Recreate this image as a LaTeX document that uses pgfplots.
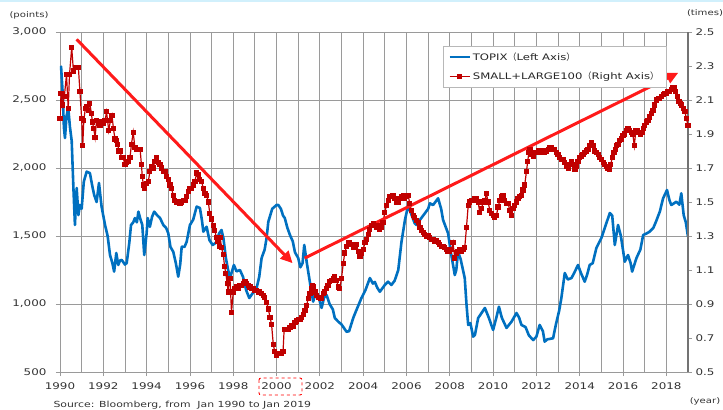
\documentclass[border=0pt]{standalone}
\usepackage{fontspec}
\setmainfont{DejaVu Sans}[FakeStretch=1.3]
\newfontfamily\cjk{Noto Sans CJK JP}
\usepackage{pgfplots}
\pgfplotsset{compat=1.18}
\usetikzlibrary{arrows.meta}

\definecolor{topix}{HTML}{0070C0}
\definecolor{slred}{HTML}{C00000}
\definecolor{arrowred}{HTML}{FF1A1A}
\definecolor{txt}{HTML}{333333}
\definecolor{gridc}{HTML}{9A9A9A}

\pgfplotsset{
  twin/.style={
    scale only axis, width=628bp, height=340bp,
    xmin=1990, xmax=2019,
    tick align=outside, major tick length=4bp, minor tick length=0bp,
    tick style={gridc, line width=0.8bp},
    tick label style={font=\fontsize{9.2}{10}\selectfont, text=txt},
    /pgf/number format/assume math mode=true,
    legend image code/.code={
      \draw[mark repeat=2, mark phase=2, #1] plot coordinates {(0bp,0bp) (10bp,0bp) (20bp,0bp)};
    },
  }
}

\begin{document}
\begin{tikzpicture}
\useasboundingbox (-60bp,-38bp) rectangle (663bp,372bp);
\draw[color=cyan!18, line width=2bp] (-60bp,371bp) -- (663bp,371bp);

% left axis: TOPIX
\begin{axis}[
  twin,
  ymin=500, ymax=3000,
  ytick={500,1000,1500,2000,2500,3000},
  xtick={1990,1992,...,2018},
  minor xtick={1991,1993,...,2017},
  xticklabel style={/pgf/number format/1000 sep={}, yshift=-3bp},
  yticklabel style={xshift=-6bp},
  axis x line*=bottom, axis y line*=left,
  axis line style={gridc, line width=0.8bp},
  xmajorgrids, xminorgrids, ymajorgrids,
  grid style={gridc, line width=0.8bp},
  minor grid style={gridc, line width=0.8bp},
]
\addplot[topix, line width=2.6bp, line join=round] coordinates {
(1990.0,2720) (1990.05,2745) (1990.12,2560) (1990.18,2300) (1990.23,2220)
(1990.3,2380) (1990.38,2441) (1990.46,2300) (1990.54,2200) (1990.62,1850)
(1990.69,1581) (1990.77,1853) (1990.85,1654) (1990.92,1728) (1991.0,1700)
(1991.1,1900) (1991.23,1973) (1991.38,1963) (1991.5,1860) (1991.58,1801)
(1991.69,1750) (1991.8,1890) (1991.92,1716) (1992.08,1581) (1992.2,1500)
(1992.31,1360) (1992.42,1300) (1992.5,1238) (1992.6,1375) (1992.69,1287)
(1992.77,1320) (1992.85,1324) (1993.0,1290) (1993.08,1301) (1993.2,1450)
(1993.28,1581) (1993.38,1600) (1993.46,1632) (1993.55,1600) (1993.62,1679)
(1993.72,1620) (1993.8,1581) (1993.89,1360) (1994.0,1520) (1994.05,1632)
(1994.15,1568) (1994.25,1640) (1994.35,1679) (1994.5,1650) (1994.62,1632)
(1994.77,1581) (1994.9,1560) (1995.0,1520) (1995.1,1420) (1995.23,1384)
(1995.35,1300) (1995.46,1201) (1995.55,1290) (1995.62,1421) (1995.75,1420)
(1995.85,1458) (1996.0,1581) (1996.15,1620) (1996.31,1716) (1996.46,1706)
(1996.55,1620) (1996.62,1532) (1996.77,1568) (1996.9,1470) (1997.05,1434)
(1997.2,1450) (1997.35,1520) (1997.46,1544) (1997.55,1480) (1997.66,1338)
(1997.75,1260) (1997.85,1191) (1998.03,1287) (1998.15,1240) (1998.31,1250)
(1998.45,1200) (1998.6,1100) (1998.74,1044) (1998.9,1080) (1999.08,1118)
(1999.2,1200) (1999.31,1338) (1999.45,1400) (1999.54,1485) (1999.62,1605)
(1999.8,1700) (2000.0,1728) (2000.08,1728) (2000.2,1700) (2000.3,1650)
(2000.38,1632) (2000.5,1560) (2000.62,1507) (2000.75,1460) (2000.85,1380)
(2001.0,1338) (2001.1,1270) (2001.2,1300) (2001.28,1434) (2001.4,1300)
(2001.55,1150) (2001.69,1017) (2001.8,1080) (2001.92,1066) (2002.08,971)
(2002.2,1050) (2002.31,1066) (2002.45,1000) (2002.6,960) (2002.69,897)
(2002.85,870) (2003.0,850) (2003.23,796) (2003.35,800) (2003.54,897)
(2003.7,960) (2003.92,1044) (2004.1,1100) (2004.31,1191) (2004.45,1150)
(2004.54,1162) (2004.65,1120) (2004.77,1090) (2005.0,1140) (2005.15,1164)
(2005.3,1140) (2005.45,1170) (2005.62,1250) (2005.77,1458) (2005.93,1618)
(2006.08,1728) (2006.15,1691) (2006.38,1593) (2006.46,1581) (2006.62,1618)
(2006.85,1667) (2007.0,1700) (2007.08,1740) (2007.23,1728) (2007.46,1777)
(2007.6,1700) (2007.69,1618) (2007.92,1520) (2008.05,1380) (2008.23,1213)
(2008.3,1250) (2008.38,1384) (2008.5,1330) (2008.69,1191) (2008.77,1000)
(2008.85,846) (2008.95,860) (2009.08,760) (2009.16,772) (2009.31,897)
(2009.45,930) (2009.62,971) (2009.8,900) (2010.0,809) (2010.15,900)
(2010.27,980) (2010.4,900) (2010.62,824) (2010.75,850) (2010.85,870)
(2011.08,934) (2011.2,900) (2011.31,846) (2011.5,830) (2011.65,770)
(2011.85,735) (2012.0,760) (2012.15,846) (2012.3,800) (2012.38,723)
(2012.5,740) (2012.77,748) (2012.9,850) (2013.05,950) (2013.15,1042)
(2013.31,1228) (2013.45,1180) (2013.62,1191) (2013.75,1230) (2013.92,1287)
(2014.05,1230) (2014.23,1164) (2014.35,1220) (2014.46,1287) (2014.6,1300)
(2014.77,1412) (2015.0,1485) (2015.2,1580) (2015.39,1669) (2015.5,1650)
(2015.62,1434) (2015.77,1581) (2015.9,1500) (2016.08,1311) (2016.23,1360)
(2016.35,1300) (2016.42,1238) (2016.62,1338) (2016.8,1400) (2016.93,1507)
(2017.1,1520) (2017.23,1532) (2017.4,1560) (2017.52,1605) (2017.7,1680)
(2017.85,1777) (2018.03,1838) (2018.15,1760) (2018.23,1728) (2018.35,1740)
(2018.46,1752) (2018.6,1730) (2018.69,1814) (2018.8,1654) (2018.9,1600)
(2019.0,1495)
};
\end{axis}

% right axis: SMALL+LARGE100
\begin{axis}[
  twin,
  ymin=0.5, ymax=2.5,
  ytick={0.5,0.7,0.9,1.1,1.3,1.5,1.7,1.9,2.1,2.3,2.5},
  yticklabel style={/pgf/number format/.cd, fixed, fixed zerofill, precision=1},
  axis x line=none, axis y line*=right,
  axis line style={black!55, line width=1.2bp},
  legend cell align=left,
  legend style={at={(axis description cs:0.61,0.958)}, anchor=north west,
    draw=gridc!70, fill=white, font=\fontsize{9}{10}\selectfont, text=black!85,
    inner xsep=5bp, inner ysep=4bp, row sep=6bp},
]
\addlegendimage{topix, line width=2.6bp}
\addlegendentry{TOPIX{\cjk （}Left Axis{\cjk ）}}
\addplot[slred, line width=1.2bp, mark=square*, mark size=2bp, mark options={solid}] coordinates {
(1990.0,1.99) (1990.05,2.14) (1990.12,2.07) (1990.2,2.12) (1990.3,2.25)
(1990.38,2.05) (1990.44,2.25) (1990.54,2.41) (1990.62,2.27) (1990.7,2.29)
(1990.77,2.29) (1990.85,2.29) (1990.92,2.15) (1991.0,1.99) (1991.05,1.83)
(1991.1,1.98) (1991.17,2.05) (1991.23,2.06) (1991.3,2.04) (1991.38,2.08)
(1991.45,2.02) (1991.5,1.97) (1991.56,1.93) (1991.62,1.88) (1991.69,1.98)
(1991.77,1.96) (1991.85,1.95) (1991.92,1.97) (1992.0,1.96) (1992.08,1.98)
(1992.15,2.03) (1992.25,1.92) (1992.33,1.98) (1992.4,2.01) (1992.47,1.93)
(1992.54,1.87) (1992.6,1.86) (1992.66,1.84) (1992.72,1.80) (1992.77,1.80)
(1992.85,1.76) (1992.92,1.76) (1993.0,1.72) (1993.08,1.73) (1993.15,1.74)
(1993.23,1.76) (1993.3,1.84) (1993.38,1.91) (1993.46,1.82) (1993.54,1.81)
(1993.62,1.81) (1993.7,1.81) (1993.76,1.72) (1993.8,1.65) (1993.85,1.60)
(1993.92,1.58) (1994.0,1.61) (1994.08,1.62) (1994.15,1.68) (1994.23,1.71)
(1994.3,1.70) (1994.38,1.74) (1994.46,1.76) (1994.54,1.73) (1994.62,1.72)
(1994.7,1.70) (1994.77,1.68) (1994.85,1.68) (1994.92,1.65) (1995.0,1.63)
(1995.08,1.60) (1995.15,1.58) (1995.23,1.54) (1995.3,1.51) (1995.38,1.50)
(1995.46,1.50) (1995.54,1.49) (1995.62,1.50) (1995.7,1.51) (1995.77,1.51)
(1995.85,1.53) (1995.92,1.56) (1996.0,1.58) (1996.08,1.58) (1996.15,1.60)
(1996.23,1.62) (1996.31,1.67) (1996.38,1.66) (1996.46,1.63) (1996.54,1.62)
(1996.62,1.58) (1996.7,1.55) (1996.77,1.54) (1996.85,1.50) (1996.92,1.43)
(1997.0,1.40) (1997.08,1.36) (1997.15,1.33) (1997.23,1.29) (1997.3,1.27)
(1997.35,1.24) (1997.4,1.29) (1997.46,1.23) (1997.54,1.19) (1997.6,1.12)
(1997.66,1.08) (1997.72,1.02) (1997.77,0.97) (1997.81,1.05) (1997.85,1.05)
(1997.92,0.85) (1998.0,0.97) (1998.08,0.99) (1998.15,1.00) (1998.23,0.99)
(1998.31,1.01) (1998.38,1.01) (1998.46,1.02) (1998.54,1.03) (1998.62,1.02)
(1998.7,1.01) (1998.77,1.00) (1998.85,0.99) (1998.92,0.99) (1999.0,0.98)
(1999.08,0.98) (1999.15,0.97) (1999.23,0.97) (1999.31,0.96) (1999.38,0.95)
(1999.46,0.94) (1999.54,0.91) (1999.62,0.87) (1999.7,0.82) (1999.77,0.78)
(1999.85,0.66) (1999.92,0.62) (2000.0,0.60) (2000.08,0.61) (2000.15,0.61)
(2000.23,0.61) (2000.3,0.62) (2000.35,0.75) (2000.46,0.75) (2000.54,0.75)
(2000.62,0.76) (2000.7,0.77) (2000.77,0.77) (2000.85,0.79) (2000.92,0.80)
(2001.0,0.81) (2001.08,0.81) (2001.15,0.82) (2001.23,0.84) (2001.31,0.86)
(2001.38,0.89) (2001.46,0.93) (2001.54,0.96) (2001.6,0.99) (2001.65,1.01)
(2001.72,1.00) (2001.78,0.97) (2001.85,0.95) (2001.92,0.94) (2002.0,0.94)
(2002.05,0.93) (2002.15,0.96) (2002.23,0.97) (2002.31,0.99) (2002.38,1.01)
(2002.46,1.03) (2002.54,1.04) (2002.62,1.05) (2002.69,1.06) (2002.77,1.04)
(2002.85,1.00) (2002.92,0.99) (2003.0,1.05) (2003.08,1.14) (2003.15,1.20)
(2003.23,1.24) (2003.35,1.26) (2003.46,1.25) (2003.58,1.23) (2003.69,1.25)
(2003.77,1.21) (2003.85,1.18) (2003.92,1.20) (2004.0,1.22) (2004.08,1.26)
(2004.15,1.28) (2004.23,1.31) (2004.31,1.34) (2004.38,1.36) (2004.46,1.37)
(2004.54,1.36) (2004.62,1.35) (2004.7,1.36) (2004.77,1.34) (2004.85,1.35)
(2004.92,1.38) (2005.0,1.44) (2005.08,1.48) (2005.16,1.51) (2005.23,1.53)
(2005.3,1.53) (2005.38,1.54) (2005.46,1.52) (2005.54,1.50) (2005.62,1.50)
(2005.7,1.52) (2005.77,1.53) (2005.85,1.54) (2005.92,1.52) (2006.0,1.53)
(2006.08,1.54) (2006.15,1.49) (2006.23,1.45) (2006.31,1.42) (2006.38,1.41)
(2006.46,1.39) (2006.54,1.38) (2006.62,1.35) (2006.7,1.33) (2006.77,1.32)
(2006.85,1.31) (2006.92,1.30) (2007.0,1.30) (2007.08,1.29) (2007.15,1.28)
(2007.23,1.28) (2007.3,1.27) (2007.38,1.27) (2007.46,1.26) (2007.54,1.25)
(2007.62,1.24) (2007.69,1.24) (2007.77,1.23) (2007.85,1.22) (2007.92,1.21)
(2008.0,1.21) (2008.08,1.22) (2008.15,1.26) (2008.23,1.17) (2008.31,1.20)
(2008.38,1.21) (2008.46,1.22) (2008.54,1.21) (2008.62,1.22) (2008.69,1.23)
(2008.77,1.35) (2008.85,1.48) (2008.92,1.50) (2009.0,1.51) (2009.08,1.51)
(2009.16,1.52) (2009.23,1.52) (2009.31,1.50) (2009.38,1.44) (2009.46,1.46)
(2009.54,1.50) (2009.62,1.51) (2009.69,1.55) (2009.77,1.50) (2009.85,1.45)
(2009.92,1.43) (2010.0,1.42) (2010.08,1.41) (2010.15,1.42) (2010.23,1.47)
(2010.31,1.51) (2010.38,1.53) (2010.46,1.54) (2010.54,1.51) (2010.62,1.49)
(2010.7,1.49) (2010.77,1.45) (2010.85,1.42) (2010.92,1.46) (2011.0,1.48)
(2011.08,1.50) (2011.15,1.52) (2011.23,1.53) (2011.3,1.54) (2011.38,1.57)
(2011.46,1.60) (2011.54,1.68) (2011.6,1.74) (2011.65,1.79) (2011.7,1.81)
(2011.77,1.78) (2011.85,1.77) (2011.92,1.79) (2012.0,1.79) (2012.08,1.80)
(2012.15,1.80) (2012.23,1.79) (2012.31,1.80) (2012.38,1.79) (2012.46,1.80)
(2012.54,1.81) (2012.62,1.82) (2012.69,1.82) (2012.77,1.81) (2012.85,1.81)
(2012.92,1.79) (2013.0,1.78) (2013.08,1.76) (2013.15,1.75) (2013.23,1.75)
(2013.31,1.73) (2013.38,1.71) (2013.47,1.70) (2013.54,1.72) (2013.62,1.74)
(2013.7,1.72) (2013.78,1.69) (2013.85,1.71) (2013.92,1.74) (2014.0,1.76)
(2014.08,1.77) (2014.15,1.78) (2014.23,1.79) (2014.31,1.80) (2014.38,1.81)
(2014.46,1.83) (2014.54,1.85) (2014.62,1.83) (2014.69,1.80) (2014.77,1.79)
(2014.85,1.78) (2014.92,1.76) (2015.0,1.75) (2015.08,1.73) (2015.16,1.72)
(2015.23,1.71) (2015.3,1.70) (2015.36,1.69) (2015.43,1.72) (2015.5,1.76)
(2015.58,1.79) (2015.65,1.81) (2015.7,1.83) (2015.77,1.84) (2015.85,1.86)
(2015.92,1.87) (2016.0,1.89) (2016.08,1.90) (2016.15,1.92) (2016.23,1.93)
(2016.31,1.92) (2016.38,1.91) (2016.45,1.90) (2016.52,1.83) (2016.59,1.92)
(2016.65,1.92) (2016.72,1.91) (2016.8,1.90) (2016.88,1.91) (2016.95,1.93)
(2017.0,1.95) (2017.08,1.97) (2017.15,1.98) (2017.23,2.00) (2017.31,2.02)
(2017.38,2.04) (2017.46,2.07) (2017.54,2.10) (2017.62,2.11) (2017.7,2.11)
(2017.78,2.12) (2017.85,2.13) (2017.93,2.14) (2018.0,2.14) (2018.08,2.15)
(2018.16,2.15) (2018.23,2.16) (2018.3,2.17) (2018.35,2.17) (2018.42,2.15)
(2018.5,2.12) (2018.58,2.09) (2018.64,2.08) (2018.7,2.07) (2018.78,2.05)
(2018.86,2.03) (2018.93,1.99) (2019.0,1.95)
};
\addlegendentry{SMALL+LARGE100{\cjk （}Right Axis{\cjk ）}}
% trend arrows
\draw[arrowred, line width=3bp, -{Triangle[length=12bp,width=11bp]}]
  (axis cs:1990.77,2.457) -- (axis cs:2000.74,1.14);
\draw[arrowred, line width=3bp, -{Triangle[length=12bp,width=11bp]}]
  (axis cs:2001.3,1.17) -- (axis cs:2018.55,2.26);
\end{axis}

\draw[red, dashed, rounded corners=2bp, line width=0.9bp] (199bp,-6bp) rectangle (242bp,-23bp);
\node[font=\fontsize{7.8}{8}\selectfont, text=txt] at (-31bp,357bp) {(points)};
\node[font=\fontsize{7.8}{8}\selectfont, text=txt] at (645bp,359bp) {(times)};
\node[font=\fontsize{7.8}{8}\selectfont, text=txt] at (645bp,-29bp) {(year)};
\node[anchor=west, font=\fontsize{8.4}{9}\selectfont, text=txt] at (-10bp,-33bp) {Source: Bloomberg, from\ \ Jan 1990 to Jan 2019};
\end{tikzpicture}
\end{document}
